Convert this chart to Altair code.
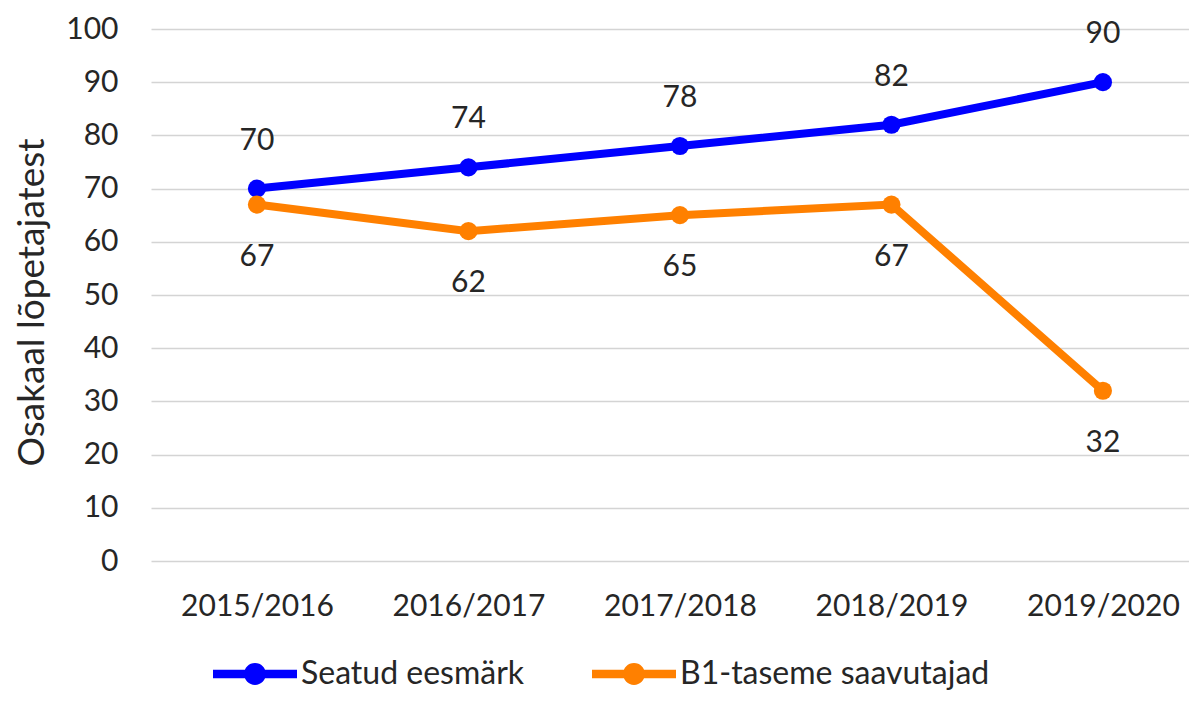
import altair as alt
import pandas as pd

years = ["2015/2016", "2016/2017", "2017/2018", "2018/2019", "2019/2020"]
target = [70, 74, 78, 82, 90]
b1 = [67, 62, 65, 67, 32]
series_names = ["Seatud eesmärk", "B1-taseme saavutajad"]
colors = ["#0000FF", "#FF8000"]

rows = []
for i, y in enumerate(years):
    rows.append({"idx": i, "year": y, "series": series_names[0], "value": target[i]})
    rows.append({"idx": i, "year": y, "series": series_names[1], "value": b1[i]})
df = pd.DataFrame(rows)

FONT = "Lato"
label_expr = "[" + ",".join("'" + y + "'" for y in years) + "][datum.value]"

x_enc = alt.X(
    "idx:Q",
    scale=alt.Scale(domain=[-0.501, 4.407], nice=False, zero=False),
    axis=alt.Axis(
        values=list(range(len(years))),
        labelExpr=label_expr,
        title=None,
        grid=False,
        domain=False,
        ticks=False,
        labelPadding=30,
        labelFontSize=30,
        labelFont=FONT,
        labelColor="#262626",
    ),
)
y_enc = alt.Y(
    "value:Q",
    scale=alt.Scale(domain=[0, 100], nice=False),
    axis=alt.Axis(
        values=list(range(0, 101, 10)),
        title="Osakaal lõpetajatest",
        titleFont=FONT,
        titleFontSize=37,
        titleFontWeight="normal",
        titleColor="#262626",
        titleAngle=-90,
        titleX=-119,
        titleY=273,
        titleAlign="center",
        titleBaseline="middle",
        domain=False,
        ticks=False,
        labelPadding=33,
        labelFontSize=30,
        labelFont=FONT,
        labelColor="#262626",
        gridColor="#d4d4d4",
        gridWidth=1.5,
    ),
)
color_scale = alt.Scale(domain=series_names, range=colors)

base = alt.Chart(df)

line_target = base.transform_filter(alt.datum.series == series_names[0]).mark_line(
    strokeWidth=8, color=colors[0]
).encode(x=x_enc, y=y_enc)

line_b1 = base.transform_filter(alt.datum.series == series_names[1]).mark_line(
    strokeWidth=8, color=colors[1]
).encode(x=x_enc, y=y_enc)

legend_symbol = (
    "M-1,-0.1 H1 V0.1 H-1 Z "
    "M0.26,0 A0.26,0.26 0 1,1 -0.26,0 A0.26,0.26 0 1,1 0.26,0 Z"
)

points = base.mark_point(filled=True, size=330, opacity=1).encode(
    x=x_enc,
    y=y_enc,
    color=alt.Color(
        "series:N",
        scale=color_scale,
        sort=series_names,
        legend=alt.Legend(
            title=None,
            orient="none",
            direction="horizontal",
            legendX=62,
            legendY=603,
            symbolType=legend_symbol,
            symbolSize=7056,
            symbolStrokeWidth=0,
            symbolOpacity=1,
            labelFont=FONT,
            labelFontSize=32,
            labelColor="#262626",
            labelOffset=4,
            columnPadding=67,
            labelLimit=400,
        ),
    ),
)

text_target = base.transform_filter(alt.datum.series == series_names[0]).mark_text(
    dy=-48, fontSize=30, font=FONT, color="#262626", baseline="middle"
).encode(x=x_enc, y=y_enc, text="value:Q")

text_b1 = base.transform_filter(alt.datum.series == series_names[1]).mark_text(
    dy=52, fontSize=30, font=FONT, color="#262626", baseline="middle"
).encode(x=x_enc, y=y_enc, text="value:Q")

chart = (
    alt.layer(line_target, line_b1, points, text_target, text_b1)
    .properties(
        width=1038,
        height=532,
        padding={"left": 143, "top": 21, "right": 0, "bottom": 132},
        autosize=alt.AutoSizeParams(type="none"),
        background="white",
    )
    .configure_view(stroke=None)
)

chart.save("out.html", embed_options={"renderer": "svg", "actions": False})
